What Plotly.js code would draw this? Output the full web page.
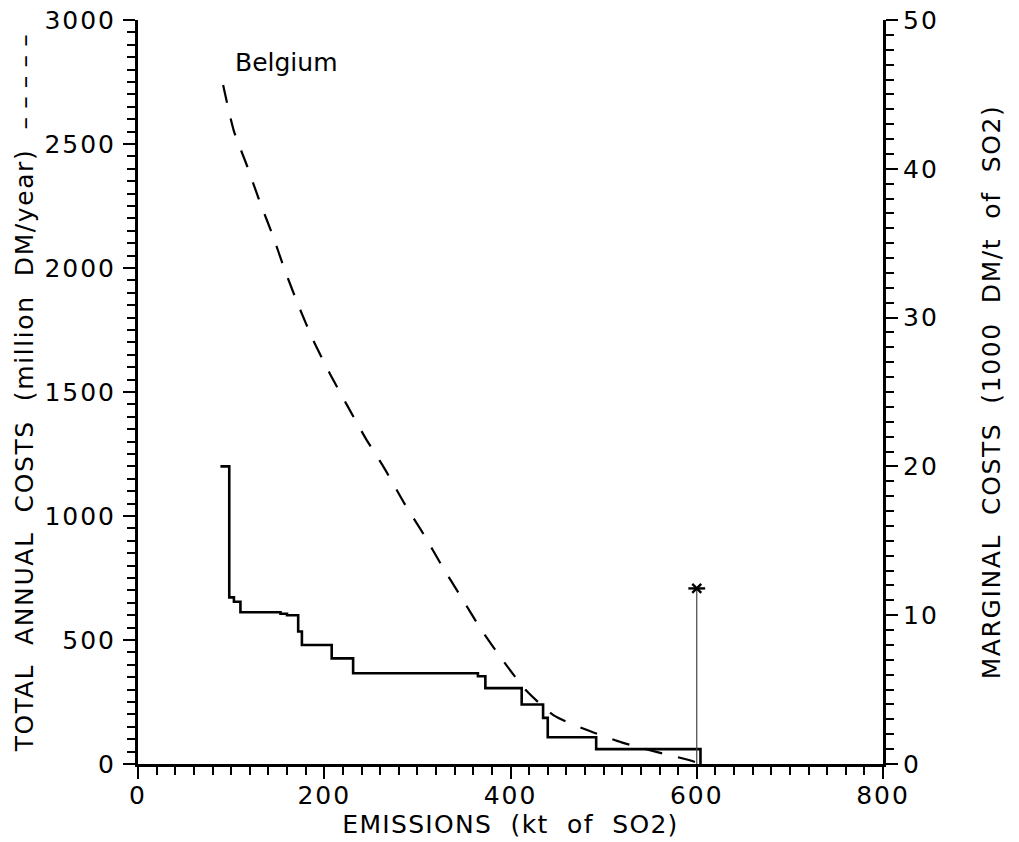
<!DOCTYPE html>
<html>
<head>
<meta charset="utf-8">
<script src="https://cdn.plot.ly/plotly-3.0.1.min.js"></script>
<style>
  html, body { margin: 0; padding: 0; background: #ffffff; }
  #chart { width: 1019px; height: 842px; }
  /* wider lettering, closer to a plotter font */
  #chart .g-xtitle text { letter-spacing: 1.3px; }
  #chart .g-ytitle text, #chart .g-y2title text { letter-spacing: 1.6px; }
  #chart .xtick text, #chart .ytick text, #chart .y2tick text { letter-spacing: 2px; }
</style>
</head>
<body>
<div id="chart"></div>
<script>
// Belgium: SO2 abatement costs against remaining emissions

// Total annual costs curve (million DM/year), left axis
const totalEmissions = [91.4, 102.9, 117.1, 130.6, 144.8, 157.9, 172.4, 188.5, 206.2, 224.9,
                        244.5, 265.1, 285.8, 306.9, 326.5, 346.7, 368.2, 391.4, 416.4, 446.9,
                        480.8, 519.3, 557.6, 594.3, 602];
const totalCosts = [2738, 2553, 2412, 2269, 2130, 1989, 1848, 1706, 1573, 1444,
                    1313, 1189, 1052, 925, 798, 675, 544, 420, 298, 195,
                    139, 87, 48, 13, 3];

// Marginal cost steps (1000 DM/t of SO2), right axis: each level holds from its start emission
const stepEmissions = [88.5, 98, 103, 110, 153, 160, 172, 176, 208, 231, 365, 373, 412, 435, 440, 492, 604];
const marginalCosts = [20.0, 11.2, 10.9, 10.2, 10.1, 10.0, 8.9, 8.0, 7.1, 6.1, 5.9, 5.1, 4.0, 3.1, 1.8, 1.0, 0];

// Current emission level marker
const currentEmission = [600, 600];
const currentMarker = [0, 11.8];

// Word gaps in the axis titles
const GAP = ' \u00a0';
const countryLabel = 'Belgium';
const xTitle = ['EMISSIONS', '(kt', 'of', 'SO2)'].join(GAP);
const yTitle = ['TOTAL', 'ANNUAL', 'COSTS', '(million', 'DM/year)'].join(GAP) +
               GAP + '\u2013\u2009\u2013\u2009\u2013\u2009\u2013\u2009\u2013';
const y2Title = ['MARGINAL', 'COSTS', '(1000', 'DM/t', 'of', 'SO2)'].join(GAP);

const FONT = 'DejaVu Sans, Liberation Sans, sans-serif';

const traces = [
  {
    x: totalEmissions, y: totalCosts, yaxis: 'y', type: 'scatter', mode: 'lines',
    line: { color: '#000', width: 2.2, dash: '18px,16px', shape: 'spline', smoothing: 0.6 },
    hoverinfo: 'skip'
  },
  {
    x: stepEmissions, y: marginalCosts, yaxis: 'y2', type: 'scatter', mode: 'lines',
    line: { color: '#000', width: 2.6, shape: 'hv' },
    hoverinfo: 'skip'
  },
  {
    x: currentEmission, y: currentMarker, yaxis: 'y2', type: 'scatter', mode: 'lines',
    line: { color: '#444', width: 1.2 },
    hoverinfo: 'skip'
  },
  {
    x: [currentEmission[1]], y: [currentMarker[1]], yaxis: 'y2', type: 'scatter', mode: 'markers',
    marker: { symbol: 'x-thin-open', size: 9, color: '#000', line: { color: '#000', width: 2.4 } },
    hoverinfo: 'skip'
  },
  {
    x: [currentEmission[1]], y: [currentMarker[1]], yaxis: 'y2', type: 'scatter', mode: 'markers',
    marker: { symbol: 'line-ew-open', size: 12, color: '#000', line: { color: '#000', width: 2.4 } },
    hoverinfo: 'skip'
  }
];

const axisCommon = {
  showgrid: false, zeroline: false, showline: true, linecolor: '#000', linewidth: 3,
  ticks: 'outside', ticklen: 12, tickwidth: 2, tickcolor: '#000',
  tickfont: { family: FONT, size: 25, color: '#000' },
  fixedrange: true
};

const layout = {
  width: 1019, height: 842,
  margin: { l: 138, r: 136, t: 20, b: 78 },
  paper_bgcolor: '#fff', plot_bgcolor: '#fff',
  showlegend: false,
  font: { family: FONT, color: '#000' },
  xaxis: Object.assign({}, axisCommon, {
    range: [0, 800], dtick: 200, tick0: 0,
    ticklabelstandoff: -5,
    minor: { dtick: 20, ticklen: 8, tickwidth: 2, tickcolor: '#000', ticks: 'outside' },
    title: { text: xTitle, font: { family: FONT, size: 25, color: '#000' }, standoff: 0 }
  }),
  yaxis: Object.assign({}, axisCommon, {
    range: [0, 3000], dtick: 500, tick0: 0,
    ticklabelstandoff: 2,
    minor: { dtick: 50, ticklen: 8, tickwidth: 2, tickcolor: '#000', ticks: 'outside' },
    title: { text: yTitle, font: { family: FONT, size: 25, color: '#000' }, standoff: 12 }
  }),
  yaxis2: Object.assign({}, axisCommon, {
    overlaying: 'y', side: 'right', anchor: 'x',
    range: [0, 50], dtick: 10, tick0: 0,
    minor: { dtick: 1, ticklen: 8, tickwidth: 2, tickcolor: '#000', ticks: 'outside' },
    title: { text: y2Title, font: { family: FONT, size: 25, color: '#000' }, standoff: 49 }
  }),
  annotations: [
    {
      x: 102, y: 2830, xref: 'x', yref: 'y', text: countryLabel, showarrow: false,
      xanchor: 'left', yanchor: 'middle', font: { family: FONT, size: 25, color: '#000' }
    }
  ]
};

Plotly.newPlot('chart', traces, layout, { staticPlot: true, displayModeBar: false });
</script>
</body>
</html>
